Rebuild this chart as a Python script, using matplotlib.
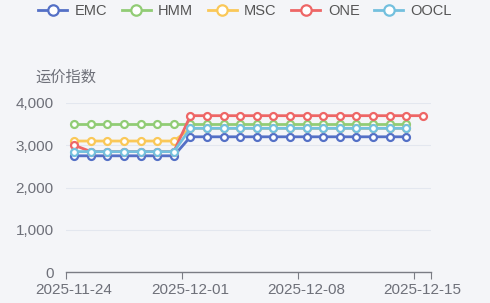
import numpy as np
import matplotlib.pyplot as plt
import matplotlib.transforms as mtransforms
from datetime import datetime, timedelta

plt.rcParams['font.family'] = ['Liberation Sans', 'Noto Sans CJK SC']

carriers = ['EMC', 'HMM', 'MSC', 'ONE', 'OOCL']
colors = ['#5470c6', '#91cc75', '#fac858', '#ee6666', '#73c0de']

start = datetime(2025, 11, 24)
# daily index values, 2025-11-24 onwards
emc = [2750] * 7 + [3200] * 14
hmm = [3500] * 7 + [3500] * 14
msc = [3100] * 7 + [3400] * 14
one = [3000] + [2850] * 6 + [3700] * 15
oocl = [2850] * 7 + [3400] * 14
series = [emc, hmm, msc, one, oocl]

bg = '#f4f5f8'
fig = plt.figure(figsize=(4.9, 3.03), dpi=100, facecolor=bg)
ax = fig.add_axes([66/490, 1 - 272/303, (431 - 66)/490, (272 - 103)/303])
ax.set_facecolor(bg)

for name, vals, c in zip(carriers, series, colors):
    xs = [start + timedelta(days=i, hours=12) for i in range(len(vals))]
    ax.plot(xs, vals, color=c, lw=2, marker='o', ms=5, mfc='white',
            mec=c, mew=1.6, label=name)

ax.set_xlim(start, datetime(2025, 12, 16))
ax.set_ylim(0, 4000)
ax.set_yticks([0, 1000, 2000, 3000, 4000])
ax.set_yticklabels(['0', '1,000', '2,000', '3,000', '4,000'])
ticks = [start + timedelta(days=7 * i) for i in range(4)]
ax.set_xticks(ticks + [datetime(2025, 12, 16)])
ax.set_xticklabels([t.strftime('%Y-%m-%d') for t in ticks] + [''])

ax.grid(axis='y', color='#e3e7ef', lw=0.8)
ax.set_axisbelow(True)
for s in ['top', 'right', 'left']:
    ax.spines[s].set_visible(False)
ax.spines['bottom'].set_color('#7a7c84')
ax.spines['bottom'].set_linewidth(1)
ax.tick_params(axis='y', length=0, pad=9, labelsize=11, labelcolor='#6e7079')
ax.tick_params(axis='x', length=5, color='#7a7c84', pad=3, labelsize=11,
               labelcolor='#6e7079')
shift = mtransforms.ScaledTranslation(0.08, 0, fig.dpi_scale_trans)
for lbl in ax.get_xticklabels():
    lbl.set_transform(lbl.get_transform() + shift)

ax.text(0, 1.15, '运价指数', transform=ax.transAxes, ha='center', va='center',
        fontsize=11, color='#6e7079')

fig.legend(loc='upper center', bbox_to_anchor=(0.5, 1.03), ncol=5, frameon=False,
           fontsize=10.5, labelcolor='#555555', handlelength=2.0, handletextpad=0.5,
           columnspacing=1.0, markerscale=1.5)

fig.savefig('out.png', dpi=100, facecolor=bg)
